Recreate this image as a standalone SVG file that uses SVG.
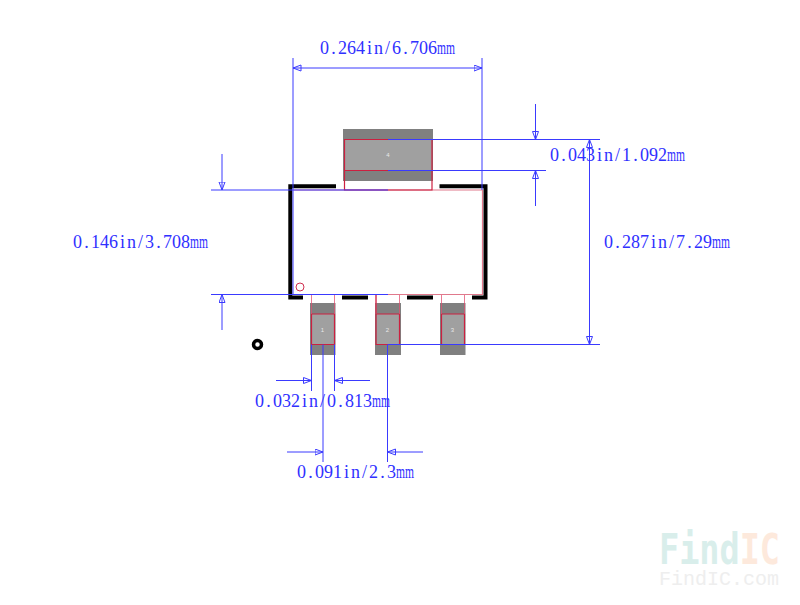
<svg xmlns="http://www.w3.org/2000/svg" width="800" height="605" viewBox="0 0 800 605">
<style>
.pad{fill:#808080}
.core{fill:#a0a0a0}
.red{fill:none;stroke:#cc2040;stroke-width:1.2}
.redl{fill:none;stroke:#e05070;stroke-width:1;opacity:.75}
.silk{fill:none;stroke:#000;stroke-width:4}
.dim{fill:none;stroke:#3a3aff;stroke-width:1}
.lab{font-family:"Liberation Serif",serif;font-size:18px;fill:#3030ff}
.num{font-family:"Liberation Sans",sans-serif;font-size:6px;fill:#e8e8e8;text-anchor:middle}
</style>
<defs>
<marker id="ah" markerWidth="10" markerHeight="8" refX="8.5" refY="3.5" orient="auto" markerUnits="userSpaceOnUse"><path d="M0.5 0.5L8.5 3.5L0.5 6.5Z" fill="none" stroke="#3a3aff" stroke-width="1"/></marker>
</defs>
<g id="pad4"><rect class="pad" x="343" y="129" width="90" height="52"/><rect class="core" x="344.500" y="139.500" width="87.500" height="31"/><text class="num" x="388" y="157">4</text></g>
<g id="pad1"><rect class="pad" x="310" y="303" width="25.500" height="52"/><rect class="core" x="311.500" y="314" width="23" height="30.500"/><text class="num" x="322.500" y="332">1</text></g>
<g id="pad2"><rect class="pad" x="375" y="303" width="26" height="52"/><rect class="core" x="376.500" y="314" width="23" height="30.500"/><text class="num" x="387.500" y="332">2</text></g>
<g id="pad3"><rect class="pad" x="440" y="303" width="25.500" height="52"/><rect class="core" x="441.500" y="314" width="23" height="30.500"/><text class="num" x="452.500" y="332">3</text></g>
<g id="outline">
<path class="red" style="opacity:.6" d="M293.500 190H482.500V294.500H388"/>
<path class="red" d="M388 190H432V139.500H344.500V170.500H388M344.500 170.500V190H388M376 294.500V344.500H388M399.500 344.500V314H376M441.500 314H464.500V344.500H441.500ZM311.500 314H334.500V344.500H311.500Z"/>
<path class="redl" d="M311.500 295V314M334.500 295V314M399.500 295V314M441.500 295V314M464.500 295V314M376 295V314"/>
<circle cx="300" cy="287" r="4" fill="none" stroke="#d03050" stroke-width="1"/>
</g>
<g id="silkscreen">
<path class="silk" d="M336 186.300H290.300V297.500H303M342 297.500H368M407 297.500H433M472 297.500H485.500V186.300H439.500"/>
<circle cx="257.500" cy="344.500" r="4" fill="none" stroke="#000" stroke-width="3.500"/>
</g>
<g id="connectors">
<path class="dim" d="M293 58V190M482 58V190M293 190V294"/>
<path class="dim" d="M388 68H482" marker-end="url(#ah)"/>
<path class="dim" d="M388 68H293" marker-end="url(#ah)"/>
<path class="dim" d="M388 139.500H600M388 170.500H546M388 344.500H600"/>
<path class="dim" d="M211 190H388"/>
<path class="dim" d="M211 294.500H388"/>
<path class="dim" d="M222 154V190" marker-end="url(#ah)"/>
<path class="dim" d="M222 330V294.500" marker-end="url(#ah)"/>
<path class="dim" d="M535.500 104V139.500" marker-end="url(#ah)"/>
<path class="dim" d="M535.500 206V170.500" marker-end="url(#ah)"/>
<path class="dim" d="M589.500 242V139.500" marker-end="url(#ah)"/>
<path class="dim" d="M589.500 242V344.500" marker-end="url(#ah)"/>
<path class="dim" d="M311.500 344.500V391M334.500 344.500V391M387.500 344.500V462"/>
<path class="dim" d="M323 344.500V462"/>
<path class="dim" d="M276 380.500H311.500" marker-end="url(#ah)"/>
<path class="dim" d="M370 380.500H334.500" marker-end="url(#ah)"/>
<path class="dim" d="M287 452H323" marker-end="url(#ah)"/>
<path class="dim" d="M423 452H387.500" marker-end="url(#ah)"/>
</g>
<g id="labels">
<text class="lab" y="54" x="320 331.200 338 347 356 367 374 385 392 403.200 410 419 428">0.264in/6.706<tspan x="437" textLength="18" lengthAdjust="spacingAndGlyphs">mm</tspan></text>
<text class="lab" y="248" x="73 84.200 91 100 109 120 127 138 145 156.200 163 172 181">0.146in/3.708<tspan x="190" textLength="18" lengthAdjust="spacingAndGlyphs">mm</tspan></text>
<text class="lab" y="161" x="550 561.200 568 577 586 597 604 615 622 633.200 640 649 658">0.043in/1.092<tspan x="667" textLength="18" lengthAdjust="spacingAndGlyphs">mm</tspan></text>
<text class="lab" y="248" x="604 615.200 622 631 640 651 658 669 676 687.200 694 703">0.287in/7.29<tspan x="712" textLength="18" lengthAdjust="spacingAndGlyphs">mm</tspan></text>
<text class="lab" y="407" x="255 266.200 273 282 291 302 309 320 327 338.200 345 354 363">0.032in/0.813<tspan x="372" textLength="18" lengthAdjust="spacingAndGlyphs">mm</tspan></text>
<text class="lab" y="478" x="297 308.200 315 324 333 344 351 362 369 380.200 387">0.091in/2.3<tspan x="396" textLength="18" lengthAdjust="spacingAndGlyphs">mm</tspan></text>
</g>
<g id="watermark">
<text x="659" y="564" font-family="DejaVu Sans Mono" font-weight="700" font-size="42" textLength="121" lengthAdjust="spacingAndGlyphs" fill="#d9eeeb">Find<tspan fill="#fde9dc">IC</tspan></text>
<text x="659" y="585" font-family="Liberation Mono" font-size="20" fill="#eeeeee">FindIC.com</text>
</g>
</svg>
